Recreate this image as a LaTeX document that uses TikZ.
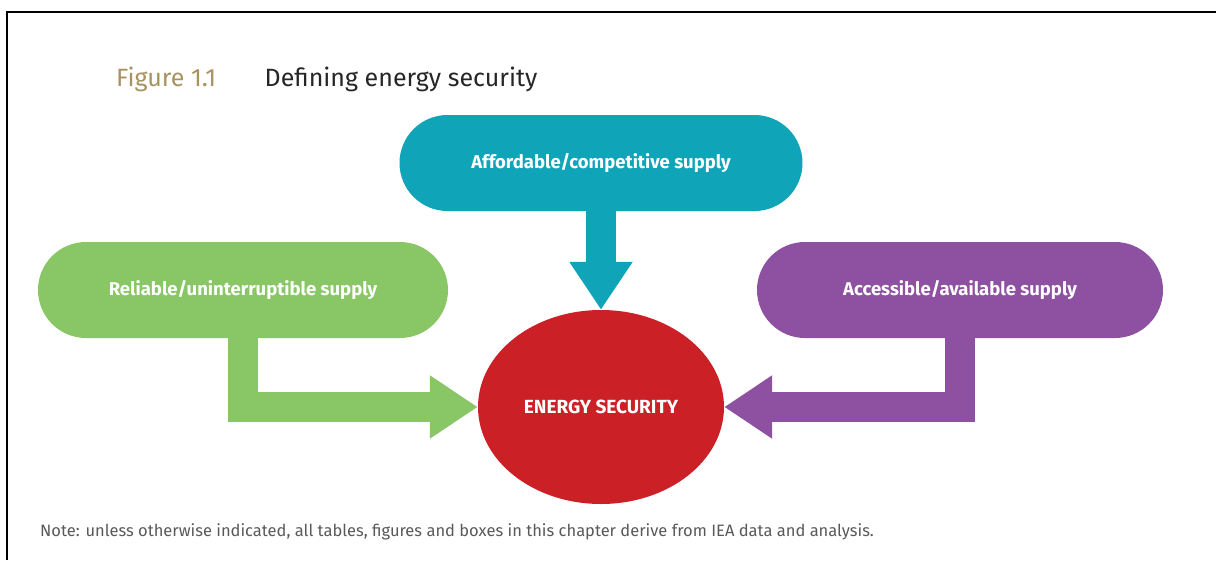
\documentclass[tikz,border=0pt]{standalone}
\usepackage{fontspec}
\setmainfont{Fira Sans}
\definecolor{supplygreen}{RGB}{137, 198, 101}
\definecolor{supplyteal}{RGB}{16, 164, 184}
\definecolor{supplypurple}{RGB}{142, 80, 160}
\definecolor{securityred}{RGB}{204, 32, 39}
\definecolor{figtan}{RGB}{168, 146, 96}
\usetikzlibrary{shapes.misc, shapes.geometric, arrows.meta, positioning}

\begin{document}
\begin{tikzpicture}[x=1pt, y=-1pt,
  pill/.style={rounded rectangle, minimum height=96pt, inner sep=0pt, text=white, font=\fontsize{18.5}{22}\selectfont\bfseries},
  feed/.style={line width=30pt, line join=miter, -{Triangle[width=60pt, length=48pt]}}]
  \useasboundingbox (0,0) rectangle (1216,560);
  % Frame
  \draw[line width=2pt] (7,560) -- (7,12) -- (1216,12);

  % Title
  \node[anchor=west, inner sep=0pt, text=figtan, font=\fontsize{25}{30}\selectfont] (fignum) at (116,79) {Figure 1.1};
  \node[right=48pt of fignum, inner sep=0pt, text=black!85, font=\fontsize{25}{30}\selectfont] (title) {Defining energy security};

  % Supply boxes
  \node[pill, fill=supplyteal, minimum width=403pt] (afford) at (601,163) {Affordable/competitive supply};
  \node[pill, fill=supplygreen, minimum width=410pt] (reliable) at (243,290) {Reliable/uninterruptible supply};
  \node[pill, fill=supplypurple, minimum width=406pt] (access) at (960,290) {Accessible/available supply};

  % Centre
  \node[ellipse, fill=securityred, minimum width=246pt, minimum height=194pt, inner sep=0pt,
    text=white, font=\fontsize{19}{22}\selectfont\bfseries] (core) at (601,407) {ENERGY SECURITY};

  % Arrows
  \draw[feed, supplyteal] (afford.south) -- (core.north);
  \draw[feed, supplygreen] (reliable.south) |- (core.west);
  \draw[feed, supplypurple] (access.south) |- (core.east);

  % Note
  \node[anchor=west, inner sep=0pt, text=black!65, font=\fontsize{16.5}{20}\selectfont] (note) at (40,532)
    {Note: unless otherwise indicated, all tables, figures and boxes in this chapter derive from IEA data and analysis.};
\end{tikzpicture}
\end{document}
